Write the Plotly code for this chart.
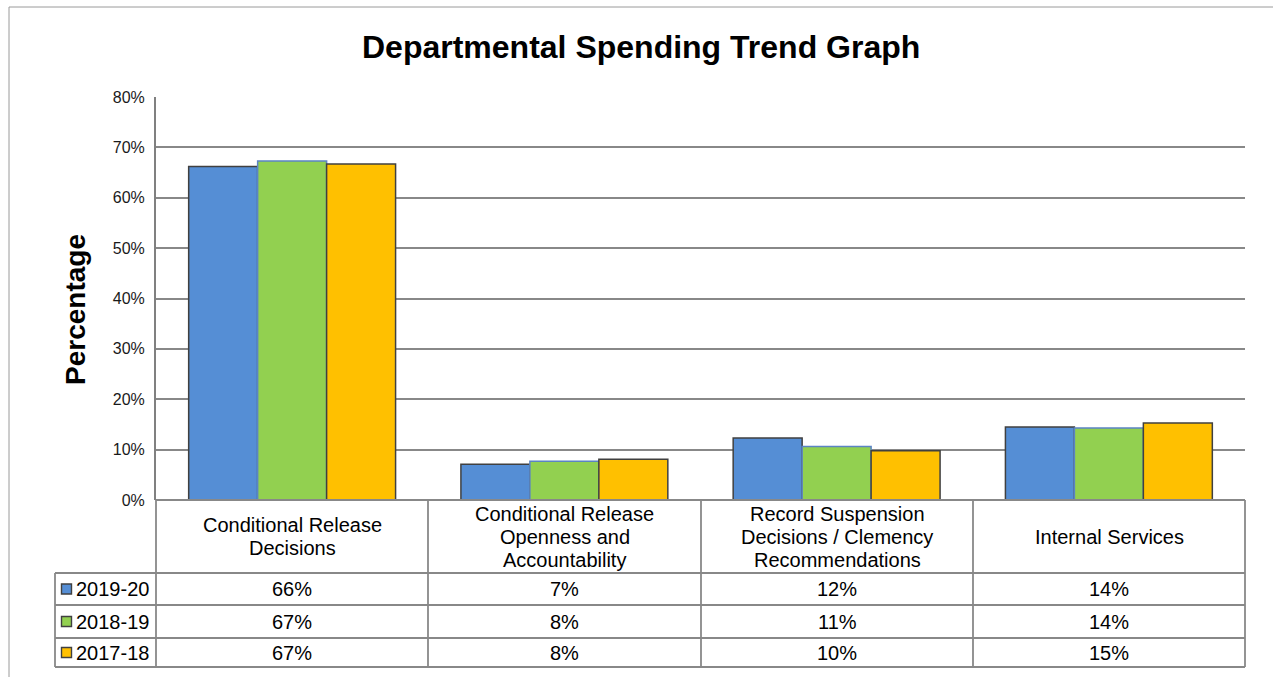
import plotly.graph_objects as go

W, H = 1273, 677

categories = [["Conditional Release", "Decisions"],
              ["Conditional Release", "Openness and", "Accountability"],
              ["Record Suspension", "Decisions / Clemency", "Recommendations"],
              ["Internal Services"]]
series_names = ["2019-20", "2018-19", "2017-18"]
v2019_20 = [66.2, 7.1, 12.3, 14.5]
v2018_19 = [67.3, 7.7, 10.6, 14.3]
v2017_18 = [66.7, 8.1, 9.8, 15.3]
y_ticks = [0, 10, 20, 30, 40, 50, 60, 70, 80]

colors = ["#558ED5", "#92D050", "#FFC000"]
outlines = ["#404040", "#5B84C4", "#404040"]
series_vals = [v2019_20, v2018_19, v2017_18]

def px(x):
    return x / W

def py(y):
    return 1 - y / H

PL, PR, PT, PB = 156, 1245, 97, 500
ROWS = [573, 605, 638, 667]
COLS = [156, 428, 701, 973, 1245]
LEG_L = 55
GRID = "#888888"
FONT = "Liberation Sans, Arial, sans-serif"

fig = go.Figure()
xcat = [0, 1, 2, 3]
for name, vals, c, oc in zip(series_names, series_vals, colors, outlines):
    fig.add_trace(go.Bar(
        x=xcat, y=[v / 100 for v in vals], name=name,
        marker=dict(color=c, line=dict(color=oc, width=1.5)),
        showlegend=False))

shapes = []
annots = []

def line(x0, y0, x1, y1, color=GRID, width=1.8):
    shapes.append(dict(type="line", xref="paper", yref="paper",
                       x0=px(x0), y0=py(y0), x1=px(x1), y1=py(y1),
                       line=dict(color=color, width=width)))

def text(x, y, s, size, anchor="center", **kw):
    annots.append(dict(x=px(x), y=py(y), xref="paper", yref="paper",
                       text=s, showarrow=False, xanchor=anchor, yanchor="middle",
                       font=dict(size=size, color="#000", family=FONT), **kw))

# outer frame
line(9, 7, W + 5, 7, color="#9A9A9A", width=1)
line(9, 7, 9, H + 5, color="#9A9A9A", width=1)

# table grid
line(PL, PB, PR, PB)
for r in ROWS:
    line(LEG_L, r, PR, r)
line(LEG_L, ROWS[0], LEG_L, ROWS[-1])
for c in COLS:
    line(c, PB, c, ROWS[-1])

# header labels (one annotation per line for exact spacing)
LS = 23
for i, cat in enumerate(categories):
    cx = (COLS[i] + COLS[i + 1]) / 2
    mid = (PB + ROWS[0]) / 2
    n = len(cat)
    for j, ln in enumerate(cat):
        text(cx, mid + (j - (n - 1) / 2) * LS, ln, 20)

# data rows
for k, (name, vals) in enumerate(zip(series_names, series_vals)):
    cy = (ROWS[k] + ROWS[k + 1]) / 2
    shapes.append(dict(type="rect", xref="paper", yref="paper",
                       x0=px(61.5), x1=px(71.5), y0=py(cy + 5), y1=py(cy - 5),
                       fillcolor=colors[k], line=dict(color="#404040", width=1.4)))
    text(74, cy, name, 20, anchor="left")
    for i, v in enumerate(vals):
        cx = (COLS[i] + COLS[i + 1]) / 2
        text(cx, cy, f"{round(v):d}%", 20)

# title and y-axis title
text(641, 47, "<b>Departmental Spending Trend Graph</b>", 32)
text(75, 310, "<b>Percentage</b>", 28, textangle=-90)

fig.update_layout(
    width=W, height=H,
    margin=dict(l=0, r=0, t=0, b=0, pad=0, autoexpand=False),
    paper_bgcolor="white", plot_bgcolor="white",
    barmode="group", bargap=0.24, bargroupgap=0,
    font=dict(family=FONT),
    xaxis=dict(domain=[px(PL), px(PR)], range=[-0.5, 3.5], showticklabels=False,
               showgrid=False, zeroline=False, showline=False, ticks="",
               automargin=False),
    yaxis=dict(domain=[py(PB), py(PT)], range=[0, 0.8],
               tickvals=[t / 100 for t in y_ticks],
               ticktext=[f"{t}%" for t in y_ticks],
               showgrid=True, gridcolor=GRID, gridwidth=1.8,
               zeroline=False, showline=True, linecolor="#808080", linewidth=2,
               ticks="outside", ticklen=6, tickcolor="rgba(0,0,0,0)",
               tickfont=dict(size=16, color="#1a1a1a", family=FONT),
               automargin=False),
    shapes=shapes, annotations=annots,
)

fig.write_html("out.html")
